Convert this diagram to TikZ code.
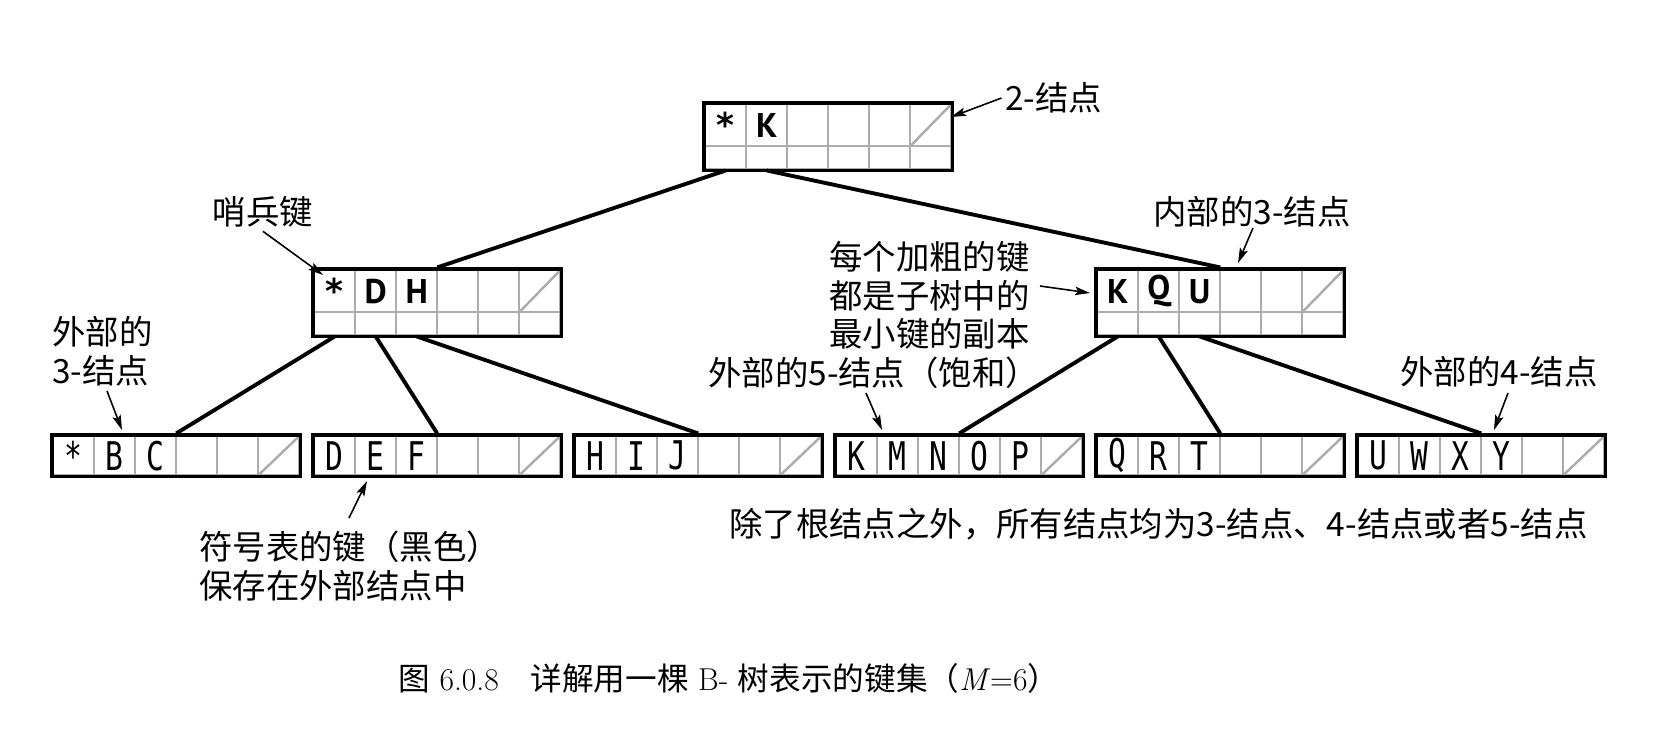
\documentclass[tikz,border=0pt]{standalone}
\usepackage{fontspec}
\newfontfamily\cjk{Noto Sans CJK SC}
\newfontfamily\keyfont{PT Sans}
\newfontfamily\starfont{DejaVu Sans}
\newfontfamily\leaffont[FakeStretch=0.75]{DejaVu Sans Mono}
\usetikzlibrary{arrows.meta,fit}
\definecolor{linegray}{RGB}{172,172,172}

\begin{document}
\begin{tikzpicture}[x=0.02cm, y=-0.02cm,
    keycell/.style={draw=linegray, line width=1.4pt, minimum width=0.82cm, minimum height=0.84cm, inner sep=0pt, anchor=north west},
    lowcell/.style={draw=linegray, line width=1.4pt, minimum width=0.82cm, minimum height=0.46cm, inner sep=0pt, anchor=north west},
    leafcell/.style={draw=linegray, line width=1.4pt, minimum width=0.82cm, minimum height=0.78cm, inner sep=0pt, anchor=north west},
    boldkey/.style={font=\fontsize{19.5}{19}\keyfont\bfseries},
    leafkey/.style={font=\fontsize{22.5}{22}\leaffont},
    slash/.style={draw=linegray, line width=1.4pt},
    boxframe/.style={draw, line width=1.8pt, inner sep=0pt},
    link/.style={line width=2.2pt},
    note/.style={font=\fontsize{19}{22}\cjk, inner sep=0pt, align=left},
    pointer/.style={-{Stealth[length=3mm, width=1.7mm, inset=0.6mm]}, line width=0.9pt}
]
    \useasboundingbox (0,0) rectangle (1674,728);

    % Internal nodes (two rows of six cells)
    \foreach \nm/\x/\y/\keys in {root/704/103/{{\starfont *},K}, dh/313/269/{{\starfont *},D,H}, kqu/1096/269/{K,Q,U}} {
        \foreach \i in {0,...,5} {
            \node[keycell] (\nm-\i) at (\x+41*\i,\y) {};
            \node[lowcell] (\nm-b\i) at (\x+41*\i,\y+42) {};
        }
        \foreach \k [count=\i from 0] in \keys
            \node[boldkey] at (\nm-\i) {\k};
        \draw[slash] (\nm-5.south west) -- (\nm-5.north east);
        \node[boxframe, fit=(\nm-0)(\nm-b5)] (\nm) {};
    }

    % External nodes (leaves)
    \foreach \nm/\x/\keys in {bc/52/{*,B,C}, def/313/{D,E,F}, hij/574/{H,I,J}, kmnop/835/{K,M,N,O,P}, qrt/1096/{Q,R,T}, uwxy/1357/{U,W,X,Y}} {
        \foreach \i in {0,...,5}
            \node[leafcell] (\nm-\i) at (\x+41*\i,435) {};
        \foreach \k [count=\i from 0] in \keys
            \node[leafkey] at (\nm-\i) {\k};
        \draw[slash] (\nm-5.south west) -- (\nm-5.north east);
        \node[boxframe, fit=(\nm-0)(\nm-5)] (\nm) {};
    }

    % Tree links
    \draw[link] (root-b0.south) -- (dh.north);
    \draw[link] (root-b1.south) -- (kqu.north);
    \draw[link] (dh-b0.south) -- (bc.north);
    \draw[link] (dh-b1.south) -- (def.north);
    \draw[link] (dh-b2.south) -- (hij.north);
    \draw[link] (kqu-b0.south) -- (kmnop.north);
    \draw[link] (kqu-b1.south) -- (qrt.north);
    \draw[link] (kqu-b2.south) -- (uwxy.north);

    % Labels
    \node[note, anchor=west] (two) at (1005,98) {2-结点};
    \node[note] (guard) at (263,212) {哨兵键};
    \node[note, anchor=north west] (ext3) at (52,316) {外部的\\3-结点};
    \node[note, anchor=north east] (bold) at (1030,241) {每个加粗的键\\都是子树中的\\最小键的副本};
    \node[note, anchor=west] (ext5) at (708,373) {外部的5-结点（饱和）};
    \node[note, anchor=west] (inner3) at (1153,212) {内部的3-结点};
    \node[note, anchor=west] (ext4) at (1400,372) {外部的4-结点};
    \node[note, anchor=north west] (symb) at (199,531) {符号表的键（黑色）\\保存在外部结点中};
    \node[note, anchor=west] (all) at (729,524) {除了根结点之外，所有结点均为3-结点、4-结点或者5-结点};

    % Pointer tips
    \coordinate (two-tip) at (951,117);
    \coordinate (guard-tip) at (323,275);
    \coordinate (ext3-tip) at (122,430);
    \coordinate (bold-tip) at (1090,293);
    \coordinate (ext5-tip) at (882,430);
    \coordinate (inner3-tip) at (1238,263);
    \coordinate (ext4-tip) at (1494,430);
    \coordinate (symb-tip) at (367,481);

    % Pointers
    \draw[pointer] ([xshift=-2pt]two.west) -- (two-tip);
    \draw[pointer] ([yshift=-2pt]guard.south) -- (guard-tip);
    \draw[pointer] (107,391) -- (ext3-tip);
    \draw[pointer] (1040,286) -- (bold-tip);
    \draw[pointer] (866,393) -- (ext5-tip);
    \draw[pointer] (1253,228) -- (inner3-tip);
    \draw[pointer] (1508,393) -- (ext4-tip);
    \draw[pointer] (349,518) -- (symb-tip);

    % Caption
    \node[font=\fontsize{18}{20}\selectfont, anchor=west, inner sep=0pt] (cap) at (398,678)
        {{\cjk 图}\ 6.0.8\quad{\cjk 详解用一棵}\ B-\ {\cjk 树表示的键集（}\textit{M}=6{\cjk ）}};
\end{tikzpicture}
\end{document}
